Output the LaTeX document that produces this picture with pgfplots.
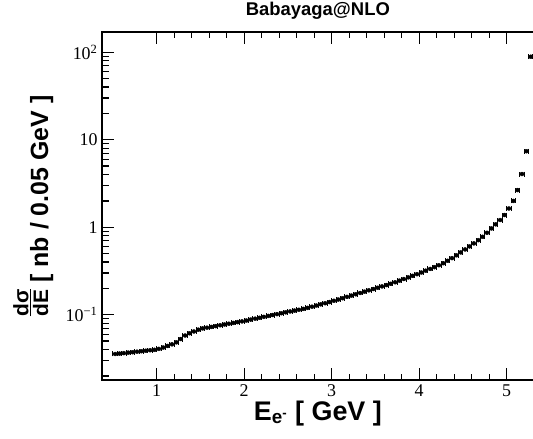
\documentclass[border=0pt]{standalone}
\usepackage{fontspec}
\usepackage{pgfplots}
\usepackage{pgfplotstable}
\pgfplotsset{compat=1.18}
\setmainfont{Liberation Sans}
\newfontfamily\tickfont{Liberation Serif}

% d(sigma)/dE stacked as a compact fraction sitting on the baseline
\newcommand\dsde{{\fontsize{21}{21}\selectfont\vbox{\halign{\hfil##\hfil\cr
  dσ\cr\noalign{\kern1.5bp\hrule height 1.2bp\kern1.5bp}dE\cr}}}}

% electron energy spectrum, 0.05 GeV bins (bin centre, cross section)
\pgfplotstableread{
E v
0.525 0.0356
0.575 0.0360
0.625 0.0364
0.675 0.0369
0.725 0.0373
0.775 0.0378
0.825 0.0383
0.875 0.0388
0.925 0.0393
0.975 0.0397
1.025 0.0407
1.075 0.0422
1.125 0.0440
1.175 0.0459
1.225 0.0484
1.275 0.0528
1.325 0.0579
1.375 0.0614
1.425 0.0644
1.475 0.0675
1.525 0.0698
1.575 0.0711
1.625 0.0726
1.675 0.0741
1.725 0.0758
1.775 0.0774
1.825 0.0790
1.875 0.0806
1.925 0.0823
1.975 0.0840
2.025 0.0859
2.075 0.0881
2.125 0.0902
2.175 0.0923
2.225 0.0946
2.275 0.0969
2.325 0.0993
2.375 0.1016
2.425 0.1040
2.475 0.1066
2.525 0.1091
2.575 0.1116
2.625 0.1140
2.675 0.1167
2.725 0.1199
2.775 0.1236
2.825 0.1274
2.875 0.1315
2.925 0.1355
2.975 0.1396
3.025 0.1444
3.075 0.1493
3.125 0.1545
3.175 0.1600
3.225 0.1656
3.275 0.1714
3.325 0.1774
3.375 0.1837
3.425 0.1901
3.475 0.1968
3.525 0.2037
3.575 0.2109
3.625 0.2183
3.675 0.2259
3.725 0.2350
3.775 0.2455
3.825 0.2559
3.875 0.2673
3.925 0.2786
3.975 0.2911
4.025 0.304
4.075 0.319
4.125 0.334
4.175 0.350
4.225 0.368
4.275 0.388
4.325 0.414
4.375 0.444
4.425 0.478
4.475 0.516
4.525 0.558
4.575 0.604
4.625 0.654
4.675 0.712
4.725 0.778
4.775 0.865
4.825 0.97
4.875 1.08
4.925 1.21
4.975 1.38
5.025 1.64
5.075 2.00
5.125 2.66
5.175 4.06
5.225 7.4
5.275 89
}\spectrum

\begin{document}
\begin{tikzpicture}
\useasboundingbox (0bp,0bp) rectangle (533bp,439bp);
\begin{axis}[
  at={(102bp,59bp)}, anchor=south west,
  scale only axis, width=431.8bp, height=348bp,
  xmin=0.375, xmax=5.31,
  ymode=log, ymin=0.01795, ymax=170.6,
  xtick={1,2,3,4,5}, minor x tick num=4,
  ytick={0.1,1,10,100},
  yticklabels={10\textsuperscript{−1},1,10,10\textsuperscript{2}},
  minor ytick={0.02,0.03,0.04,0.05,0.06,0.07,0.08,0.09,
               0.2,0.3,0.4,0.5,0.6,0.7,0.8,0.9,
               2,3,4,5,6,7,8,9,20,30,40,50,60,70,80,90},
  ytick pos=left, xtick pos=both,
  tick align=inside,
  major tick length=12bp, minor tick length=6.5bp,
  tick style={draw=black, line width=1.3bp},
  axis line style={black, line width=1.2bp},
  /pgf/number format/assume math mode=true,
  ticklabel style={font=\tickfont\fontsize{18}{18}\selectfont},
  xticklabel style={yshift=-1bp},
  yticklabel style={xshift=-1bp},
  xlabel={E\textsubscript{e\textsuperscript{-}} [ GeV ]},
  xlabel style={font=\bfseries\fontsize{27}{27}\selectfont,
                at={(axis description cs:0.5,-0.115)}, anchor=base},
  ylabel={\dsde\ [ nb / 0.05 GeV ]},
  ylabel style={font=\bfseries\fontsize{25}{25}\selectfont,
                at={(axis description cs:-0.125,0.5)}, anchor=base},
  title={Babayaga@NLO},
  title style={font=\bfseries\fontsize{18.5}{18.5}\selectfont,
               at={(axis description cs:0.5,1)}, anchor=base, yshift=10.5bp},
]
\addplot[black, only marks, mark=none,
  error bars/.cd, x dir=both, x fixed=0.025, error mark=|,
  error bar style={line width=1bp, black},
  error mark options={mark size=2.5bp, line width=1bp, black}]
  table[x=E, y=v] {\spectrum};
\end{axis}
\end{tikzpicture}
\end{document}
